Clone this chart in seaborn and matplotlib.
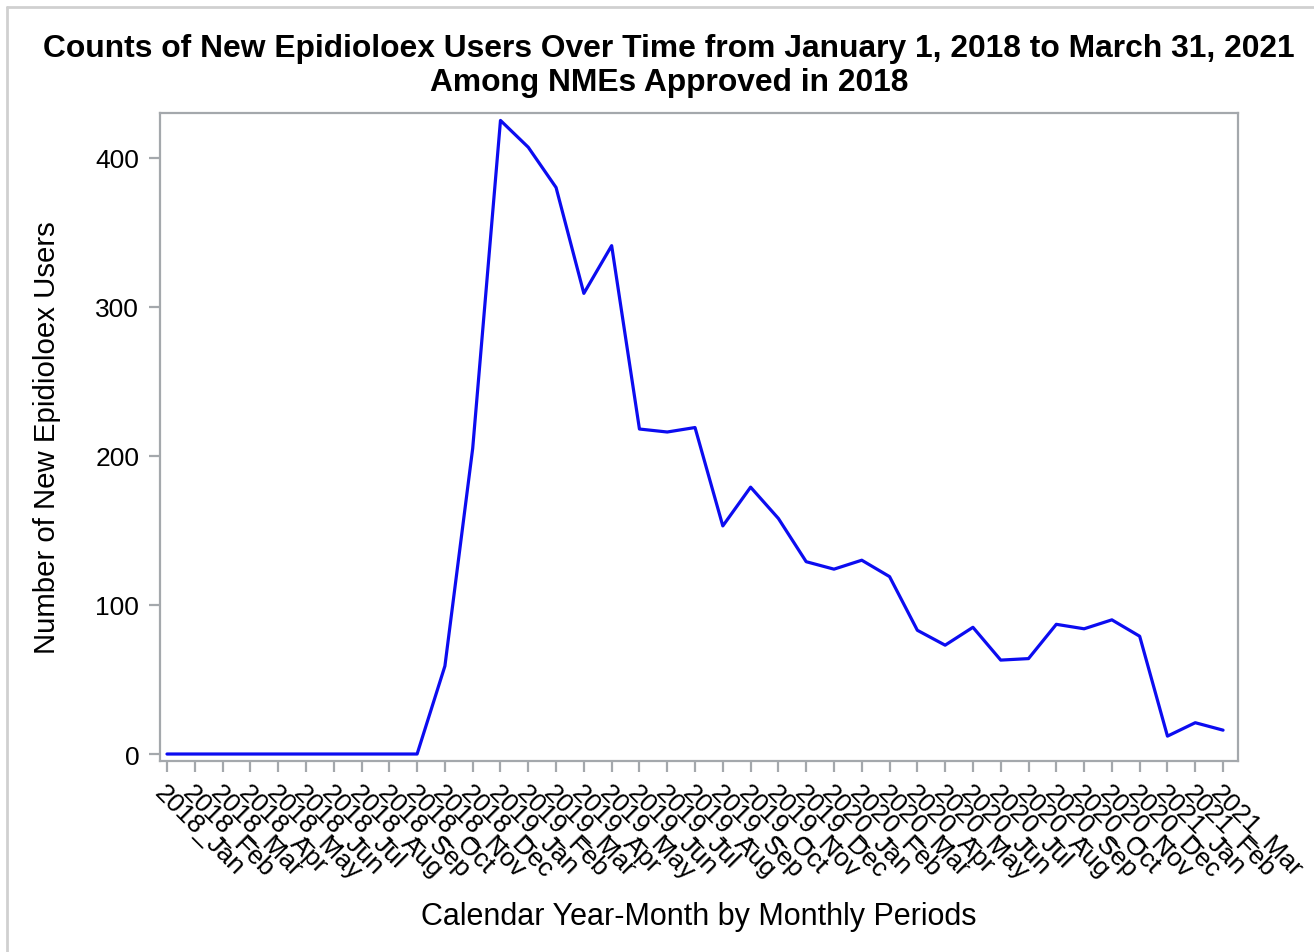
import pandas as pd
import matplotlib
matplotlib.use('Agg')
import matplotlib.pyplot as plt
import seaborn as sns

years = ['2018'] * 12 + ['2019'] * 12 + ['2020'] * 12 + ['2021'] * 3
months = ['Jan', 'Feb', 'Mar', 'Apr', 'May', 'Jun', 'Jul', 'Aug', 'Sep', 'Oct', 'Nov', 'Dec'] * 3 + ['Jan', 'Feb', 'Mar']
periods = [y + '_' + m for y, m in zip(years, months)]
new_users = [0, 0, 0, 0, 0, 0, 0, 0, 0, 0, 59, 205,
             425, 407, 380, 309, 341, 218, 216, 219, 153, 179, 158, 129,
             124, 130, 119, 83, 73, 85, 63, 64, 87, 84, 90, 79,
             12, 21, 16]

df = pd.DataFrame({'Period': periods, 'Users': new_users})

sns.set_style('white')
plt.rcParams['font.family'] = ['Liberation Sans', 'DejaVu Sans']
plt.rcParams['text.color'] = 'black'
plt.rcParams['axes.labelcolor'] = 'black'
plt.rcParams['xtick.color'] = 'black'
plt.rcParams['ytick.color'] = 'black'

fig = plt.figure(figsize=(13.14, 9.53), dpi=100)
ax = fig.add_axes([0.1218, 0.2004, 0.8204, 0.68])

sns.lineplot(x=range(len(df)), y='Users', data=df, ax=ax, color='#0c0cf0', linewidth=2.3, sort=False)

ax.set_xlim(-0.25, len(df) - 1 + 0.54)
ax.set_ylim(-4.7, 430)
ax.set_yticks([0, 100, 200, 300, 400])
ax.set_xticks(range(len(df)))
ax.set_xticklabels(periods, rotation=-45, ha='left', va='top', rotation_mode='anchor')

grey = '#a4a8ac'
for s in ax.spines.values():
    s.set_color(grey)
    s.set_linewidth(1.6)
ax.tick_params(axis='both', which='major', bottom=True, left=True, color=grey, width=1.6,
               length=8, labelsize=19, labelcolor='black', pad=7)
ax.tick_params(axis='x', pad=6)

ax.set_xlabel('Calendar Year-Month by Monthly Periods', fontsize=22, va='center')
ax.xaxis.set_label_coords(0.5, -0.239)
ax.set_ylabel('Number of New Epidioloex Users', fontsize=21.2, va='center')
ax.yaxis.set_label_coords(-0.1048, 0.5)

fig.text(0.509, 0.949, 'Counts of New Epidioloex Users Over Time from January 1, 2018 to March 31, 2021',
         ha='center', va='center', fontsize=22.9, fontweight='bold')
fig.text(0.509, 0.913, 'Among NMEs Approved in 2018',
         ha='center', va='center', fontsize=22.9, fontweight='bold')

# light frame around the figure (top and left edges visible)
fig.add_artist(plt.Line2D([7 / 1314, 1], [1 - 8 / 953, 1 - 8 / 953], color='#d0d0d0', linewidth=2, transform=fig.transFigure))
fig.add_artist(plt.Line2D([7 / 1314, 7 / 1314], [0, 1 - 8 / 953], color='#d0d0d0', linewidth=2, transform=fig.transFigure))

fig.savefig('out.png', dpi=100)
